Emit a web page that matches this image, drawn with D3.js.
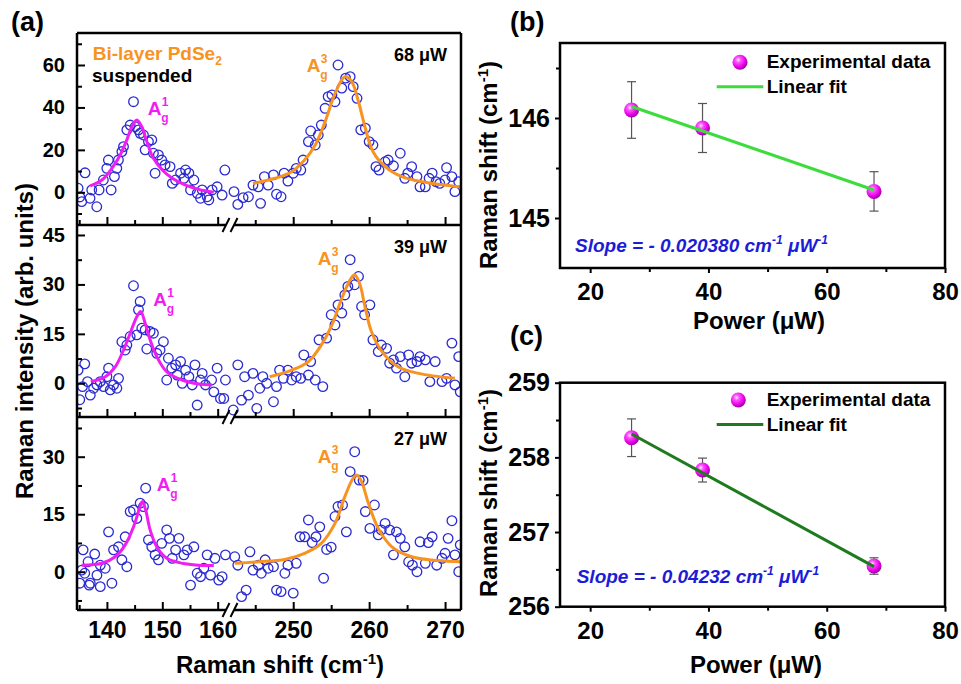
<!DOCTYPE html>
<html>
<head>
<meta charset="utf-8">
<script src="https://cdn.jsdelivr.net/npm/d3@7"></script>
<style>
html,body{margin:0;padding:0;background:#fff;}
svg{display:block;font-family:'Liberation Sans',Arial,Helvetica,sans-serif;font-weight:bold;}
</style>
</head>
<body>
<svg id="chart" width="961" height="684"></svg>
<script>
// ================= DATA =================
// Panel (a) — 68 uW
const lo68X = [134.8,135.1,135.45,136.05,136.95,137.26,138.17,138.59,139.36,139.98,140.27,140.76,141.36,141.79,142.08,142.7,142.99,143.6,144.2,144.8,145.1,145.7,146.0,146.6,146.9,147.5,148.1,148.4,148.7,149.3,149.9,150.5,151.4,151.8,152.4,153.3,153.9,154.2,154.8,155.1,155.7,156.3,156.9,157.2,158.1,158.4,159.0,159.9,160.8,161.3];
const lo68Y = [1.9,-2.2,-4.4,9.2,-2.8,1.1,-6.8,1.1,5.8,11.3,15.2,1.1,7.4,11.3,15.2,19.2,21.5,29.4,31.7,42.7,30.9,29.4,27.8,27.0,20.0,23.9,24.7,18.4,9.0,17.6,15.2,12.9,12.1,4.2,5.8,9.0,6.6,10.5,9.0,1.1,5.8,-0.5,-2.8,1.1,-2.1,-3.6,1.1,2.6,-1.3,10.5];
const hi68X = [242.2,242.7,243.4,244.1,244.7,245.4,245.7,246.2,246.7,247.4,247.8,248.4,248.8,249.3,250.0,250.4,251.0,251.3,252.0,252.3,252.9,253.3,253.7,254.2,254.6,255.1,255.5,255.9,256.4,256.9,257.5,257.9,258.4,258.9,259.5,260.0,260.5,260.9,261.3,262.1,262.5,263.2,264.1,264.7,265.1,265.6,266.3,266.7,267.4,267.9,268.3,268.8,269.3,270.0,270.2,270.9,271.3,271.8];
const hi68Y = [0.3,-5.7,-2.5,-2.1,3.4,2.6,-5.2,7.4,3.4,8.2,-0.9,-2.1,9.0,5.3,9.0,11.3,10.5,15.2,23.9,28.9,22.3,27.0,31.7,39.6,45.1,45.9,42.7,60.0,49.1,53.8,54.5,49.8,44.3,29.4,30.2,23.9,22.3,12.1,10.5,14.4,15.2,12.5,18.4,6.6,9.0,12.1,7.4,2.6,2.6,6.6,9.0,5.0,4.2,5.8,11.6,7.4,0.3,5.0];
const fit68LoX = [136.96,139.1,140.9,142.4,143.6,144.5,145.4,146.3,147.2,148.4,150.0,151.8,154.2,156.6,159.3];
const fit68LoY = [3.0,5.8,11.3,17.6,24.7,30.9,34.1,30.9,23.9,16.0,10.5,6.6,3.4,1.4,0];
const fit68HiX = [244.7,247.6,249.8,251.5,252.9,254.2,255.5,256.8,257.7,258.6,259.5,260.5,262.1,264.3,267.4,271.8,272.1];
const fit68HiY = [4.2,6.6,9.7,15.2,22.3,33.3,46.5,54.5,52.2,42.7,30.2,19.2,12.1,7.4,4.7,2.6,2.5];

// Panel (a) — 39 uW
const lo39X = [134.8,136.0,135.6,136.5,137.0,137.6,138.2,138.8,139.4,140.0,140.3,140.6,141.2,141.8,142.1,142.7,143.3,143.6,144.2,144.8,145.4,145.7,146.0,146.3,146.9,147.2,147.8,148.4,149.0,149.6,150.2,150.8,151.1,151.7,152.4,152.7,153.3,153.6,154.2,154.8,155.4,155.9,156.3,156.9,157.2,157.8,158.9,159.3,159.9,160.5,161.1,161.4,135.1];
const lo39Y = [4.0,5.9,-1.0,0.5,-3.6,-1.5,-0.5,0.5,-1.0,2.0,4.6,-2.0,-0.5,-1.5,1.5,12.6,10.1,11.6,14.2,29.6,14.7,22.3,24.8,16.7,16.2,10.4,15.7,15.2,9.1,10.1,12.6,1.0,7.6,4.6,5.6,2.5,6.6,0,4.0,2.0,-0.5,5.6,-6.6,1.0,3.0,-0.5,1.0,-2.6,4.6,-4.6,-4.6,1.0,-5.0];
const hi39X = [242.1,242.7,243.2,243.6,244.1,244.7,245.2,245.6,246.0,246.5,247.4,247.8,248.2,248.7,249.3,249.8,250.4,251.0,251.4,252.0,252.3,252.9,253.4,253.9,254.4,255.0,255.5,255.9,256.4,256.8,257.2,257.5,258.1,258.6,259.0,259.4,260.1,260.5,261.2,261.6,262.3,262.7,263.2,263.6,264.1,264.7,265.2,265.6,266.3,266.7,267.4,268.0,268.7,269.6,270.2,270.9,271.3,271.8,272.0];
const hi39Y = [-8.1,5.6,-5.1,2.0,-3.6,3.0,-7.6,-1.5,2.0,0,-5.6,-1.0,4.0,1.5,4.0,1.0,2.0,1.5,8.6,2.5,6.6,1.0,13.2,-1.0,13.7,20.8,17.7,23.8,21.3,26.8,29.4,37.5,29.9,32.4,23.3,20.8,23.8,13.2,9.6,11.6,10.6,6.1,7.1,4.6,8.1,2.0,8.6,6.1,6.6,8.1,7.1,0.5,6.6,0.5,1.5,12.2,-0.5,8.1,-2.6];
const fit39LoX = [137.1,139.7,141.5,143.0,144.2,145.4,146.1,146.9,147.8,149.0,150.8,153.6,156.6,159.0];
const fit39LoY = [0.5,2.0,5.0,10.1,15.2,20.2,21.8,18.2,13.2,8.1,3.5,1.0,-0.2,-0.5];
const fit39HiX = [246.9,249.8,252.0,253.7,255.1,256.4,257.5,258.1,258.8,259.4,260.3,261.7,263.8,266.5,271.3];
const fit39HiY = [2.0,4.0,6.6,11.6,17.7,25.8,31.4,32.9,29.9,23.8,15.7,9.6,5.0,3.0,1.5];

// Panel (a) — 27 uW
const lo27X = [135.7,135.45,136.6,136.0,137.0,138.2,138.8,139.7,140.3,141.2,142.1,142.7,143.3,143.6,144.2,144.8,145.4,146.0,146.6,147.0,147.5,148.1,148.7,149.3,149.9,150.8,151.3,151.8,152.4,153.0,153.9,154.5,155.1,155.7,156.3,156.9,157.5,158.1,158.7,159.5,160.2,160.8,161.4,135.1,136.8,138.8,140.9,137.8];
const lo27Y = [5.7,0.4,2.6,-0.4,-3.0,-0.9,1.7,0.9,10.4,5.7,6.5,3.1,9.1,1.3,15.7,16.1,13.9,17.9,17.0,21.8,8.3,6.5,4.4,3.1,7.4,10.9,8.7,3.5,5.7,8.7,4.4,5.7,-3.5,6.5,-0.4,-1.3,0.9,4.4,-0.9,3.5,-2.2,-1.3,4.4,-3.0,-3.5,-3.9,-3.0,4.6];
const hi27X = [242.3,242.7,243.2,243.8,244.3,244.7,245.4,245.8,246.3,246.7,247.4,247.8,248.4,248.9,249.3,250.0,250.4,250.9,251.5,252.0,252.5,253.0,253.5,254.0,254.4,255.0,255.5,255.9,256.5,257.0,257.5,258.1,258.7,259.2,259.5,260.1,260.7,261.2,261.6,262.1,262.7,263.2,263.6,264.1,264.7,265.2,265.7,266.3,266.7,267.4,267.8,268.3,268.9,269.6,270.0,270.4,270.9,271.3,271.8,272.0];
const hi27Y = [3.9,1.7,-6.5,-4.8,5.2,0.4,1.7,-0.4,3.1,0.9,1.3,-4.8,-5.2,-0.4,1.7,-5.6,2.2,9.1,9.1,13.5,7.6,9.1,11.7,-1.7,5.8,6.4,14.4,17.0,17.4,10.4,26.1,31.3,23.9,23.8,15.7,11.3,17.4,9.6,10.9,12.6,10.9,4.4,10.4,8.7,6.5,2.6,1.7,0,7.8,2.2,7.6,9.1,1.7,3.5,4.8,8.7,13.3,4.4,0,7.0];
const fit27LoX = [135.45,139.1,141.5,143.3,144.8,145.8,146.4,147.0,147.8,149.0,150.8,153.6,156.6,159.3];
const fit27LoY = [1.7,2.2,3.9,7.0,11.7,16.1,18.3,16.1,10.9,6.5,3.5,2.2,1.7,1.6];
const fit27HiX = [242.3,245.4,248.9,251.5,253.7,255.5,256.8,257.9,258.4,259.0,259.9,261.2,263.0,265.6,269.1,272.1];
const fit27HiY = [2.2,2.6,3.2,4.8,7.4,12.6,19.6,24.4,25.2,23.5,17.9,11.3,6.5,3.9,2.9,2.6];

const powerLabels = ["68 μW", "39 μW", "27 μW"];
const yTicks68 = [0, 20, 40, 60], yMinor68 = [-10, 10, 30, 50, 70];
const yTicks39 = [0, 15, 30, 45], yMinor39 = [-7.5, 7.5, 22.5, 37.5];
const yTicks27 = [0, 15, 30],     yMinor27 = [-7.5, 7.5, 22.5, 37.5];
const xTicksLo = [140, 150, 160], xMinorLo = [135, 145, 155];
const xTicksHi = [250, 260, 270], xMinorHi = [245, 255, 265];

// Panels (b), (c)
const power = [27, 39, 68];
const shiftA1 = [146.08, 145.90, 145.266];
const errA1 = [0.283, 0.245, 0.197];
const fitA1X = [27, 68], fitA1Y = [146.115, 145.28];
const shiftA3 = [258.263, 257.83, 256.545];
const errA3 = [0.252, 0.16, 0.11];
const fitA3X = [27, 68], fitA3Y = [258.313, 256.536];
const powerTicks = [20, 40, 60, 80], powerMinor = [30, 50, 70];
const bTicks = [145, 146], bMinor = [145.5, 146.5];
const cTicks = [256, 257, 258, 259], cMinor = [256.5, 257.5, 258.5];

// ================= DRAWING =================
const FONT = "'Liberation Sans', Arial, Helvetica, sans-serif";
const C = {blue:"#2b2bd2", mag:"#f01ef0", orange:"#f7931e", green:"#3ddc3d", dgreen:"#1e7a1e", slope:"#1c1cd8", err:"#555"};
const svg = d3.select("#chart");
const defs = svg.append("defs");
const grad = defs.append("radialGradient").attr("id","sphere").attr("cx","38%").attr("cy","34%").attr("r","66%");
grad.append("stop").attr("offset","0%").attr("stop-color","#ffe8ff");
grad.append("stop").attr("offset","28%").attr("stop-color","#ff50ff");
grad.append("stop").attr("offset","72%").attr("stop-color","#e800e8");
grad.append("stop").attr("offset","100%").attr("stop-color","#a000a0");

function styleAxis(sel, fs){
  sel.attr("font-family", FONT).attr("font-size", fs).attr("font-weight","bold");
  sel.select(".domain").remove();
  sel.selectAll(".tick line").attr("stroke","#000").attr("stroke-width",2);
  sel.selectAll(".tick text").attr("fill","#000");
}
function pairs(X, Y){ return X.map((v,i)=>[v, Y[i]]); }

// ---------- Panel (a) ----------
const AL = 77, AR = 461, GAP0 = 226, GAP1 = 234;
const xLo = d3.scaleLinear().domain([134.6, 161.5]).range([AL, GAP0]);
const xHi = d3.scaleLinear().domain([242.2, 272.1]).range([GAP1, AR]);

const subs = [
  {top:33,  bottom:225, dom:[-15.41,75.08], maj:yTicks68, min:yMinor68, lo:[lo68X,lo68Y], hi:[hi68X,hi68Y], flo:[fit68LoX,fit68LoY], fhi:[fit68HiX,fit68HiY], a1:[147.7,115], a3:[306.7,71.7]},
  {top:225, bottom:417, dom:[-10.23,48.03], maj:yTicks39, min:yMinor39, lo:[lo39X,lo39Y], hi:[hi39X,hi39Y], flo:[fit39LoX,fit39LoY], fhi:[fit39HiX,fit39HiY], a1:[153.3,306], a3:[317.7,265]},
  {top:417, bottom:610, dom:[-9.99,40.36],  maj:yTicks27, min:yMinor27, lo:[lo27X,lo27Y], hi:[hi27X,hi27Y], flo:[fit27LoX,fit27LoY], fhi:[fit27HiX,fit27HiY], a1:[156.7,491], a3:[317.7,463.3]}
];

function peakLabel(g, x, y, sup, color){
  const t = g.append("text").attr("x",x).attr("y",y).attr("fill",color).attr("font-size",19);
  t.append("tspan").text("A");
  g.append("text").attr("x",x+14).attr("y",y-9).attr("fill",color).attr("font-size",12).text(sup);
  g.append("text").attr("x",x+13.5).attr("y",y+7).attr("fill",color).attr("font-size",12).text("g");
}

subs.forEach((p, i) => {
  const y = d3.scaleLinear().domain(p.dom).range([p.bottom, p.top]);
  const g = svg.append("g");
  const cid = "clipA" + i;
  defs.append("clipPath").attr("id", cid).append("rect")
    .attr("x", AL).attr("y", p.top).attr("width", AR - AL).attr("height", p.bottom - p.top);
  const plot = g.append("g").attr("clip-path", `url(#${cid})`);

  [[xLo, p.lo], [xHi, p.hi]].forEach(([xs, [X, Y]]) => {
    plot.append("g").selectAll("circle").data(pairs(X, Y)).enter().append("circle")
      .attr("cx", d => xs(d[0])).attr("cy", d => y(d[1])).attr("r", 4.8)
      .attr("fill", "none").attr("stroke", C.blue).attr("stroke-width", 1.3);
  });
  const mk = xs => d3.line().x(d => xs(d[0])).y(d => y(d[1])).curve(d3.curveCatmullRom.alpha(0.5));
  plot.append("path").datum(pairs(p.flo[0], p.flo[1])).attr("d", mk(xLo))
    .attr("fill","none").attr("stroke", C.mag).attr("stroke-width", 3);
  plot.append("path").datum(pairs(p.fhi[0], p.fhi[1])).attr("d", mk(xHi))
    .attr("fill","none").attr("stroke", C.orange).attr("stroke-width", 3);

  // y axis (inward ticks)
  const ya = g.append("g").attr("transform", `translate(${AL},0)`)
    .call(d3.axisLeft(y).tickValues(p.maj).tickSize(-8).tickPadding(12).tickFormat(d3.format("d")));
  styleAxis(ya, 20);
  const ym = g.append("g").attr("transform", `translate(${AL},0)`)
    .call(d3.axisLeft(y).tickValues(p.min).tickSize(-5).tickFormat(""));
  styleAxis(ym, 20);

  // x axes (inward ticks) on both segments
  const last = i === subs.length - 1;
  [[xLo, xTicksLo, xMinorLo], [xHi, xTicksHi, xMinorHi]].forEach(([xs, maj, mn]) => {
    const xa = g.append("g").attr("transform", `translate(0,${p.bottom})`)
      .call(d3.axisBottom(xs).tickValues(maj).tickSize(-8).tickPadding(12).tickFormat(last ? d3.format("d") : ""));
    styleAxis(xa, 23);
    const xm = g.append("g").attr("transform", `translate(0,${p.bottom})`)
      .call(d3.axisBottom(xs).tickValues(mn).tickSize(-5).tickFormat(""));
    styleAxis(xm, 23);
  });

  // bottom axis line with break
  g.append("line").attr("x1", AL).attr("x2", GAP0).attr("y1", p.bottom).attr("y2", p.bottom).attr("stroke","#000").attr("stroke-width",2.5);
  g.append("line").attr("x1", GAP1).attr("x2", AR).attr("y1", p.bottom).attr("y2", p.bottom).attr("stroke","#000").attr("stroke-width",2.5);
  [GAP0, GAP1].forEach(bx => {
    g.append("line").attr("x1", bx - 3.5).attr("y1", p.bottom + 7).attr("x2", bx + 3.5).attr("y2", p.bottom - 7)
      .attr("stroke","#000").attr("stroke-width",2);
  });

  // annotations
  g.append("text").attr("x", 447).attr("y", p.top + 28).attr("text-anchor","end").attr("font-size",18).attr("fill","#000").text(powerLabels[i]);
  peakLabel(g, p.a1[0], p.a1[1], "1", C.mag);
  peakLabel(g, p.a3[0], p.a3[1], "3", C.orange);
});

// frame of panel (a): left, right, top
svg.append("line").attr("x1",AL).attr("x2",AL).attr("y1",33).attr("y2",610).attr("stroke","#000").attr("stroke-width",2.5);
svg.append("line").attr("x1",AR).attr("x2",AR).attr("y1",33).attr("y2",610).attr("stroke","#000").attr("stroke-width",2.5);
svg.append("line").attr("x1",AL).attr("x2",AR).attr("y1",33).attr("y2",33).attr("stroke","#000").attr("stroke-width",2.5);

// Panel (a) texts
const bl = svg.append("text").attr("x",92.7).attr("y",60).attr("font-size",19).attr("fill",C.orange);
bl.append("tspan").text("Bi-layer PdSe");
bl.append("tspan").attr("font-size",12).attr("dy",5).text("2");
svg.append("text").attr("x",92).attr("y",82).attr("font-size",19).attr("fill","#000").text("suspended");

const xl = svg.append("text").attr("x",280).attr("y",673).attr("text-anchor","middle").attr("font-size",24).attr("fill","#000");
xl.append("tspan").text("Raman shift (cm");
xl.append("tspan").attr("font-size",15).attr("dy",-9).text("-1");
xl.append("tspan").attr("dy",9).text(")");

svg.append("text").attr("transform","translate(33,341) rotate(-90)").attr("text-anchor","middle")
  .attr("font-size",24).attr("fill","#000").text("Raman intensity (arb. units)");

svg.append("text").attr("x",11).attr("y",31).attr("font-size",27).text("(a)");
svg.append("text").attr("x",510).attr("y",31).attr("font-size",27).text("(b)");
svg.append("text").attr("x",510).attr("y",345).attr("font-size",27).text("(c)");

// ---------- Panels (b), (c) ----------
const xP = d3.scaleLinear().domain([14.9, 80]).range([560, 945]);

function fitPanel(o){
  const y = d3.scaleLinear().domain(o.dom).range([o.bottom, o.top]);
  const g = svg.append("g");
  // axes (outward ticks)
  const xa = g.append("g").attr("transform", `translate(0,${o.bottom})`)
    .call(d3.axisBottom(xP).tickValues(powerTicks).tickSize(5).tickPadding(10).tickFormat(d3.format("d")));
  styleAxis(xa, 24);
  const xm = g.append("g").attr("transform", `translate(0,${o.bottom})`)
    .call(d3.axisBottom(xP).tickValues(powerMinor).tickSize(4).tickFormat(""));
  styleAxis(xm, 24);
  const ya = g.append("g").attr("transform", `translate(560,0)`)
    .call(d3.axisLeft(y).tickValues(o.ticks).tickSize(5).tickPadding(5).tickFormat(d3.format("d")));
  styleAxis(ya, 25);
  const ym = g.append("g").attr("transform", `translate(560,0)`)
    .call(d3.axisLeft(y).tickValues(o.minor).tickSize(4).tickFormat(""));
  styleAxis(ym, 25);
  g.append("rect").attr("x",560).attr("y",o.top).attr("width",945-560).attr("height",o.bottom-o.top)
    .attr("fill","none").attr("stroke","#000").attr("stroke-width",2.5);

  // error bars
  const pts = power.map((p, i) => ({x:p, y:o.vals[i], e:o.errs[i]}));
  const eb = g.append("g").attr("stroke", C.err).attr("stroke-width", 1.2);
  pts.forEach(d => {
    eb.append("line").attr("x1", xP(d.x)).attr("x2", xP(d.x)).attr("y1", y(d.y + d.e)).attr("y2", y(d.y - d.e));
    eb.append("line").attr("x1", xP(d.x) - 4.5).attr("x2", xP(d.x) + 4.5).attr("y1", y(d.y + d.e)).attr("y2", y(d.y + d.e));
    eb.append("line").attr("x1", xP(d.x) - 4.5).attr("x2", xP(d.x) + 4.5).attr("y1", y(d.y - d.e)).attr("y2", y(d.y - d.e));
  });
  g.selectAll(null).data(pts).enter().append("circle")
    .attr("cx", d => xP(d.x)).attr("cy", d => y(d.y)).attr("r", 7.5).attr("fill", "url(#sphere)");
  g.append("path").datum(pairs(o.fitX, o.fitY))
    .attr("d", d3.line().x(d => xP(d[0])).y(d => y(d[1])))
    .attr("fill","none").attr("stroke", o.lineColor).attr("stroke-width", 3);

  // legend
  g.append("circle").attr("cx", o.leg[0]).attr("cy", o.leg[1]).attr("r", 7.5).attr("fill","url(#sphere)");
  g.append("text").attr("x", 766.7).attr("y", o.leg[1] + 6).attr("font-size", 19).attr("fill","#000").text("Experimental data");
  g.append("line").attr("x1", 716.7).attr("x2", 763.3).attr("y1", o.leg[1] + 24.5).attr("y2", o.leg[1] + 24.5)
    .attr("stroke", o.lineColor).attr("stroke-width", 3);
  g.append("text").attr("x", 766.7).attr("y", o.leg[1] + 31).attr("font-size", 19).attr("fill","#000").text("Linear fit");

  // slope text
  const st = g.append("text").attr("x", o.slopePos[0]).attr("y", o.slopePos[1]).attr("font-size", 19)
    .attr("font-style","italic").attr("fill", C.slope);
  st.append("tspan").text("Slope = - " + o.slope + " cm");
  st.append("tspan").attr("font-size",12).attr("dy",-8).text("-1");
  st.append("tspan").attr("dy",8).text(" μW");
  st.append("tspan").attr("font-size",12).attr("dy",-8).text("-1");

  // axis titles
  const yl = g.append("text").attr("transform", `translate(497,${o.ylabY}) rotate(-90)`).attr("text-anchor","middle")
    .attr("font-size",24).attr("fill","#000");
  yl.append("tspan").text("Raman shift (cm");
  yl.append("tspan").attr("font-size",15).attr("dy",-9).text("-1");
  yl.append("tspan").attr("dy",9).text(")");
  g.append("text").attr("x", o.xlab[0]).attr("y", o.xlab[1]).attr("text-anchor","middle")
    .attr("font-size",24).attr("fill","#000").text("Power (μW)");
}

fitPanel({top:43, bottom:268, dom:[144.5,146.75], ticks:bTicks, minor:bMinor, vals:shiftA1, errs:errA1,
  fitX:fitA1X, fitY:fitA1Y, lineColor:C.green, leg:[740,62.3], slope:"0.020380", slopePos:[575,251.7],
  ylabY:165, xlab:[759,329]});
fitPanel({top:382.7, bottom:606.7, dom:[256,259], ticks:cTicks, minor:cMinor, vals:shiftA3, errs:errA3,
  fitX:fitA3X, fitY:fitA3Y, lineColor:C.dgreen, leg:[738.3,400], slope:"0.04232", slopePos:[576.7,583.3],
  ylabY:493, xlab:[756,673]});
</script>
</body>
</html>
